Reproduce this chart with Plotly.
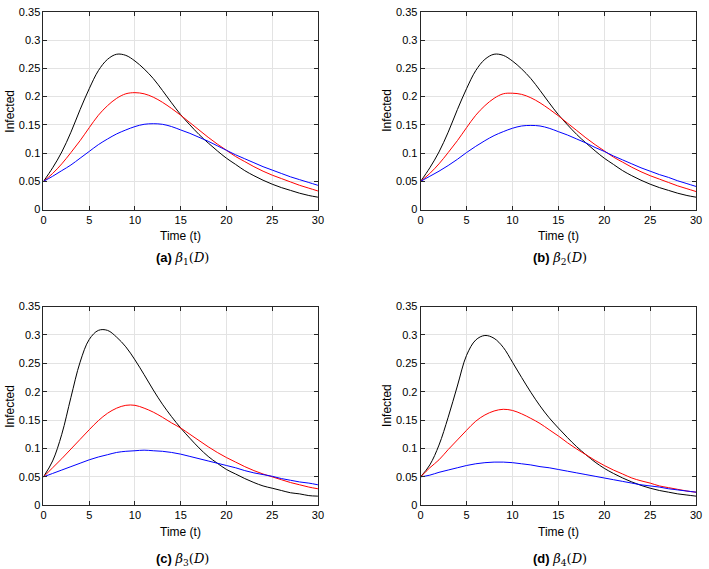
import plotly.graph_objects as go

t = list(range(0, 31))

# Panel (a) beta_1(D)
a_black = [0.05, 0.074, 0.102, 0.137, 0.177, 0.214, 0.246, 0.266, 0.275, 0.273, 0.263, 0.249, 0.232, 0.211, 0.189, 0.168, 0.150, 0.133, 0.118, 0.104, 0.091, 0.080, 0.069, 0.060, 0.052, 0.045, 0.039, 0.034, 0.029, 0.025, 0.022]
a_red = [0.05, 0.064, 0.081, 0.101, 0.122, 0.145, 0.167, 0.184, 0.197, 0.205, 0.207, 0.205, 0.199, 0.190, 0.179, 0.167, 0.154, 0.141, 0.128, 0.116, 0.105, 0.094, 0.085, 0.076, 0.068, 0.061, 0.055, 0.049, 0.043, 0.038, 0.033]
a_blue = [0.05, 0.059, 0.069, 0.079, 0.091, 0.103, 0.115, 0.125, 0.134, 0.141, 0.147, 0.151, 0.152, 0.151, 0.147, 0.141, 0.135, 0.128, 0.121, 0.113, 0.105, 0.097, 0.090, 0.083, 0.076, 0.070, 0.064, 0.058, 0.053, 0.048, 0.043]

# Panel (b) beta_2(D)
b_black = [0.05, 0.074, 0.102, 0.137, 0.177, 0.214, 0.246, 0.266, 0.275, 0.273, 0.263, 0.249, 0.232, 0.211, 0.189, 0.168, 0.150, 0.133, 0.118, 0.104, 0.091, 0.080, 0.069, 0.060, 0.052, 0.045, 0.039, 0.034, 0.029, 0.025, 0.022]
b_red = [0.05, 0.064, 0.081, 0.101, 0.122, 0.145, 0.167, 0.184, 0.197, 0.205, 0.206, 0.204, 0.198, 0.189, 0.178, 0.166, 0.153, 0.140, 0.127, 0.115, 0.104, 0.093, 0.084, 0.075, 0.067, 0.060, 0.054, 0.048, 0.042, 0.037, 0.032]
b_blue = [0.05, 0.059, 0.068, 0.078, 0.089, 0.101, 0.112, 0.122, 0.131, 0.138, 0.144, 0.148, 0.149, 0.148, 0.144, 0.138, 0.132, 0.125, 0.118, 0.110, 0.103, 0.095, 0.088, 0.081, 0.074, 0.068, 0.062, 0.057, 0.051, 0.046, 0.041]

# Panel (c) beta_3(D)
c_black = [0.05, 0.078, 0.125, 0.190, 0.252, 0.292, 0.308, 0.308, 0.296, 0.279, 0.256, 0.230, 0.203, 0.178, 0.156, 0.136, 0.118, 0.101, 0.086, 0.074, 0.063, 0.055, 0.047, 0.040, 0.034, 0.030, 0.026, 0.022, 0.020, 0.017, 0.016]
c_red = [0.05, 0.066, 0.082, 0.099, 0.116, 0.133, 0.149, 0.162, 0.171, 0.176, 0.176, 0.171, 0.164, 0.155, 0.145, 0.136, 0.125, 0.114, 0.103, 0.093, 0.084, 0.076, 0.068, 0.061, 0.055, 0.050, 0.045, 0.040, 0.036, 0.032, 0.029]
c_blue = [0.05, 0.056, 0.062, 0.068, 0.074, 0.080, 0.085, 0.089, 0.093, 0.095, 0.096, 0.097, 0.096, 0.095, 0.093, 0.090, 0.086, 0.082, 0.078, 0.074, 0.070, 0.066, 0.061, 0.057, 0.054, 0.051, 0.047, 0.044, 0.041, 0.039, 0.036]

# Panel (d) beta_4(D)
d_black = [0.05, 0.071, 0.106, 0.155, 0.210, 0.264, 0.291, 0.299, 0.294, 0.278, 0.252, 0.225, 0.199, 0.175, 0.154, 0.136, 0.119, 0.103, 0.089, 0.076, 0.065, 0.056, 0.048, 0.041, 0.035, 0.030, 0.026, 0.023, 0.020, 0.018, 0.016]
d_red = [0.05, 0.066, 0.080, 0.098, 0.115, 0.132, 0.148, 0.159, 0.166, 0.169, 0.167, 0.161, 0.153, 0.144, 0.133, 0.122, 0.110, 0.099, 0.089, 0.079, 0.070, 0.062, 0.055, 0.048, 0.043, 0.039, 0.034, 0.031, 0.028, 0.025, 0.023]
d_blue = [0.05, 0.053, 0.058, 0.062, 0.066, 0.070, 0.073, 0.075, 0.076, 0.076, 0.075, 0.073, 0.071, 0.068, 0.066, 0.063, 0.060, 0.057, 0.054, 0.051, 0.048, 0.045, 0.042, 0.039, 0.036, 0.034, 0.032, 0.029, 0.027, 0.025, 0.023]

panels = [
    ("(a)", "1", a_black, a_red, a_blue),
    ("(b)", "2", b_black, b_red, b_blue),
    ("(c)", "3", c_black, c_red, c_blue),
    ("(d)", "4", d_black, d_red, d_blue),
]

x_ticks = [0, 5, 10, 15, 20, 25, 30]
y_ticks = [0, 0.05, 0.1, 0.15, 0.2, 0.25, 0.3, 0.35]
y_ticktext = ["0", "0.05", "0.1", "0.15", "0.2", "0.25", "0.3", "0.35"]

W, H = 709, 569
# pixel boxes of plot areas: (left, right, top, bottom)
boxes = [(41, 319, 6, 208), (423, 702, 6, 208), (41, 319, 307, 510), (423, 702, 307, 510)]

FONT = "Liberation Sans, Arial, sans-serif"
fig = go.Figure()
colors = ["#000000", "#ff0000", "#0000ff"]

for i, (lab, sub, blk, red, blu) in enumerate(panels):
    n = i + 1
    xa = "x" if n == 1 else f"x{n}"
    ya = "y" if n == 1 else f"y{n}"
    for series, col in zip([blk, red, blu], colors):
        fig.add_trace(go.Scatter(x=t, y=series, mode="lines", xaxis=xa, yaxis=ya,
                                 line=dict(color=col, width=1, shape="spline", smoothing=1.0),
                                 showlegend=False, hoverinfo="skip"))
    l, r, tp, bt = boxes[i]
    xdom = [l / W, r / W]
    ydom = [1 - bt / H, 1 - tp / H]
    axcommon = dict(showline=True, linecolor="#262626", linewidth=1, mirror="ticks",
                    ticks="inside", ticklen=4, tickcolor="#262626", showgrid=True,
                    gridcolor="#e3e3e3", gridwidth=1, zeroline=False,
                    tickfont=dict(family=FONT, size=11, color="#000000"))
    xkey = "xaxis" if n == 1 else f"xaxis{n}"
    ykey = "yaxis" if n == 1 else f"yaxis{n}"
    fig.update_layout(**{
        xkey: dict(domain=xdom, anchor=ya, range=[0, 30], tickvals=x_ticks, **axcommon),
        ykey: dict(domain=ydom, anchor=xa, range=[0, 0.35], tickvals=y_ticks,
                   ticktext=y_ticktext, **axcommon),
    })
    cx = (l + r) / 2
    # x axis title
    fig.add_annotation(x=cx / W, y=1 - (bt + 27) / H, xref="paper", yref="paper",
                       text="Time (t)", showarrow=False, xanchor="center", yanchor="middle",
                       font=dict(family=FONT, size=12, color="#000000"))
    # y axis title
    fig.add_annotation(x=(l - 34) / W, y=1 - ((tp + bt) / 2) / H, xref="paper", yref="paper",
                       text="Infected", showarrow=False, textangle=-90,
                       xanchor="center", yanchor="middle",
                       font=dict(family=FONT, size=12, color="#000000"))
    # caption
    cap_y = bt + 50 if i < 2 else bt + 55
    fig.add_annotation(x=(cx + 2) / W, y=1 - cap_y / H,
                       xref="paper", yref="paper",
                       text=f"<b>{lab}</b> <span style='font-family:DejaVu Serif'><i>β</i><sub>{sub}</sub>(<i>D</i>)</span>",
                       showarrow=False, xanchor="center", yanchor="middle",
                       font=dict(family=FONT, size=13, color="#000000"))

fig.update_layout(width=W, height=H, margin=dict(l=0, r=0, t=0, b=0),
                  paper_bgcolor="white", plot_bgcolor="white")

fig.write_html("out.html", config={"displayModeBar": False},
               post_script="document.body.style.margin='0';document.body.style.overflow='hidden';")
